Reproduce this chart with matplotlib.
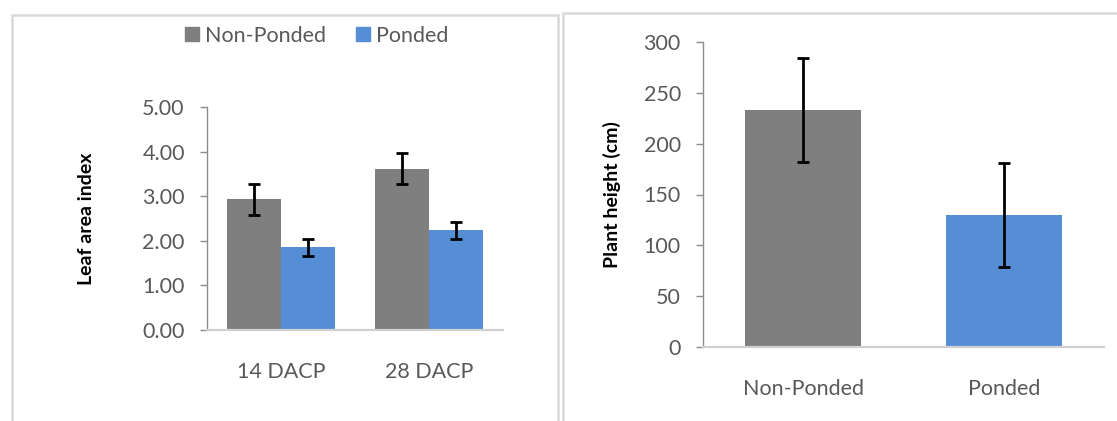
import matplotlib.pyplot as plt
from matplotlib.patches import Rectangle
from matplotlib.lines import Line2D
import numpy as np

plt.rcParams['font.family'] = ['Lato', 'DejaVu Sans']

# leaf area index data
lai_groups = ['14 DACP', '28 DACP']
lai_non_ponded = [2.93, 3.62]
lai_non_ponded_err = [0.35, 0.35]
lai_ponded = [1.85, 2.24]
lai_ponded_err = [0.19, 0.19]

# plant height data
height_cats = ['Non-Ponded', 'Ponded']
height_vals = [233, 130]
height_err = [51, 51]

gray = '#7F7F7F'
blue = '#558ED5'
tick_col = '#595959'
frame_col = '#D9D9D9'

fig = plt.figure(figsize=(11.17, 4.21), dpi=100)

# panel frames
fig.patches.append(Rectangle((12 / 1117, -0.05), 546 / 1117, 1.05 - 15 / 421,
                             transform=fig.transFigure, fill=False,
                             edgecolor=frame_col, linewidth=1.8))
fig.patches.append(Rectangle((563 / 1117, -0.05), 0.6, 1.05 - 13 / 421,
                             transform=fig.transFigure, fill=False,
                             edgecolor=frame_col, linewidth=1.8))


def style_axes(ax):
    for s in ['top', 'right']:
        ax.spines[s].set_visible(False)
    ax.spines['left'].set_color('#8C8C8C')
    ax.spines['left'].set_linewidth(1.0)
    ax.spines['bottom'].set_color('#D0D0D0')
    ax.spines['bottom'].set_linewidth(1.6)
    ax.tick_params(axis='y', direction='out', length=5, width=1.0,
                   color='#8C8C8C', labelcolor=tick_col, labelsize=15.5, pad=11)
    ax.tick_params(axis='x', length=0, labelcolor=tick_col, labelsize=15.5, pad=23)


# left panel: leaf area index
ax1 = fig.add_axes([207 / 1117, 1 - 330 / 421, 296 / 1117, 223 / 421])
x = np.arange(len(lai_groups))
w = 0.365
eb = dict(ecolor='black', elinewidth=2, capsize=4.5, capthick=2)
ax1.bar(x - w / 2, lai_non_ponded, w, color=gray, yerr=lai_non_ponded_err,
        error_kw=eb, label='Non-Ponded')
ax1.bar(x + w / 2, lai_ponded, w, color=blue, yerr=lai_ponded_err,
        error_kw=eb, label='Ponded')
ax1.set_xlim(-0.5, 1.5)
ax1.set_ylim(0, 5)
ax1.set_yticks(np.arange(0, 5.01, 1))
ax1.set_yticklabels([f'{v:.2f}' for v in np.arange(0, 5.01, 1)])
ax1.set_xticks(x)
ax1.set_xticklabels(lai_groups)
ax1.set_ylabel('Leaf area index', fontsize=14, fontweight='bold', labelpad=34)
style_axes(ax1)

handles = [Line2D([], [], marker='s', linestyle='none', markersize=10,
                  markerfacecolor=gray, markeredgecolor=gray),
           Line2D([], [], marker='s', linestyle='none', markersize=10,
                  markerfacecolor=blue, markeredgecolor=blue)]
leg = fig.legend(handles, ['Non-Ponded', 'Ponded'], loc='center',
                 bbox_to_anchor=(315 / 1117, 1 - 36 / 421), ncol=2,
                 frameon=False, fontsize=15.5, handletextpad=0.1,
                 columnspacing=1.2, handlelength=1.0)
for t in leg.get_texts():
    t.set_color(tick_col)

# right panel: plant height
ax2 = fig.add_axes([703 / 1117, 1 - 347.3 / 421, 401 / 1117, 305.6 / 421])
x2 = np.arange(len(height_cats))
ax2.bar(x2, height_vals, 0.58, color=[gray, blue], yerr=height_err, error_kw=eb)
ax2.set_xlim(-0.5, 1.5)
ax2.set_ylim(0, 300)
ax2.set_yticks(np.arange(0, 301, 50))
ax2.set_xticks(x2)
ax2.set_xticklabels(height_cats)
ax2.set_ylabel('Plant height (cm)', fontsize=14, fontweight='bold', labelpad=16)
style_axes(ax2)

fig.savefig('out.png', dpi=100)
